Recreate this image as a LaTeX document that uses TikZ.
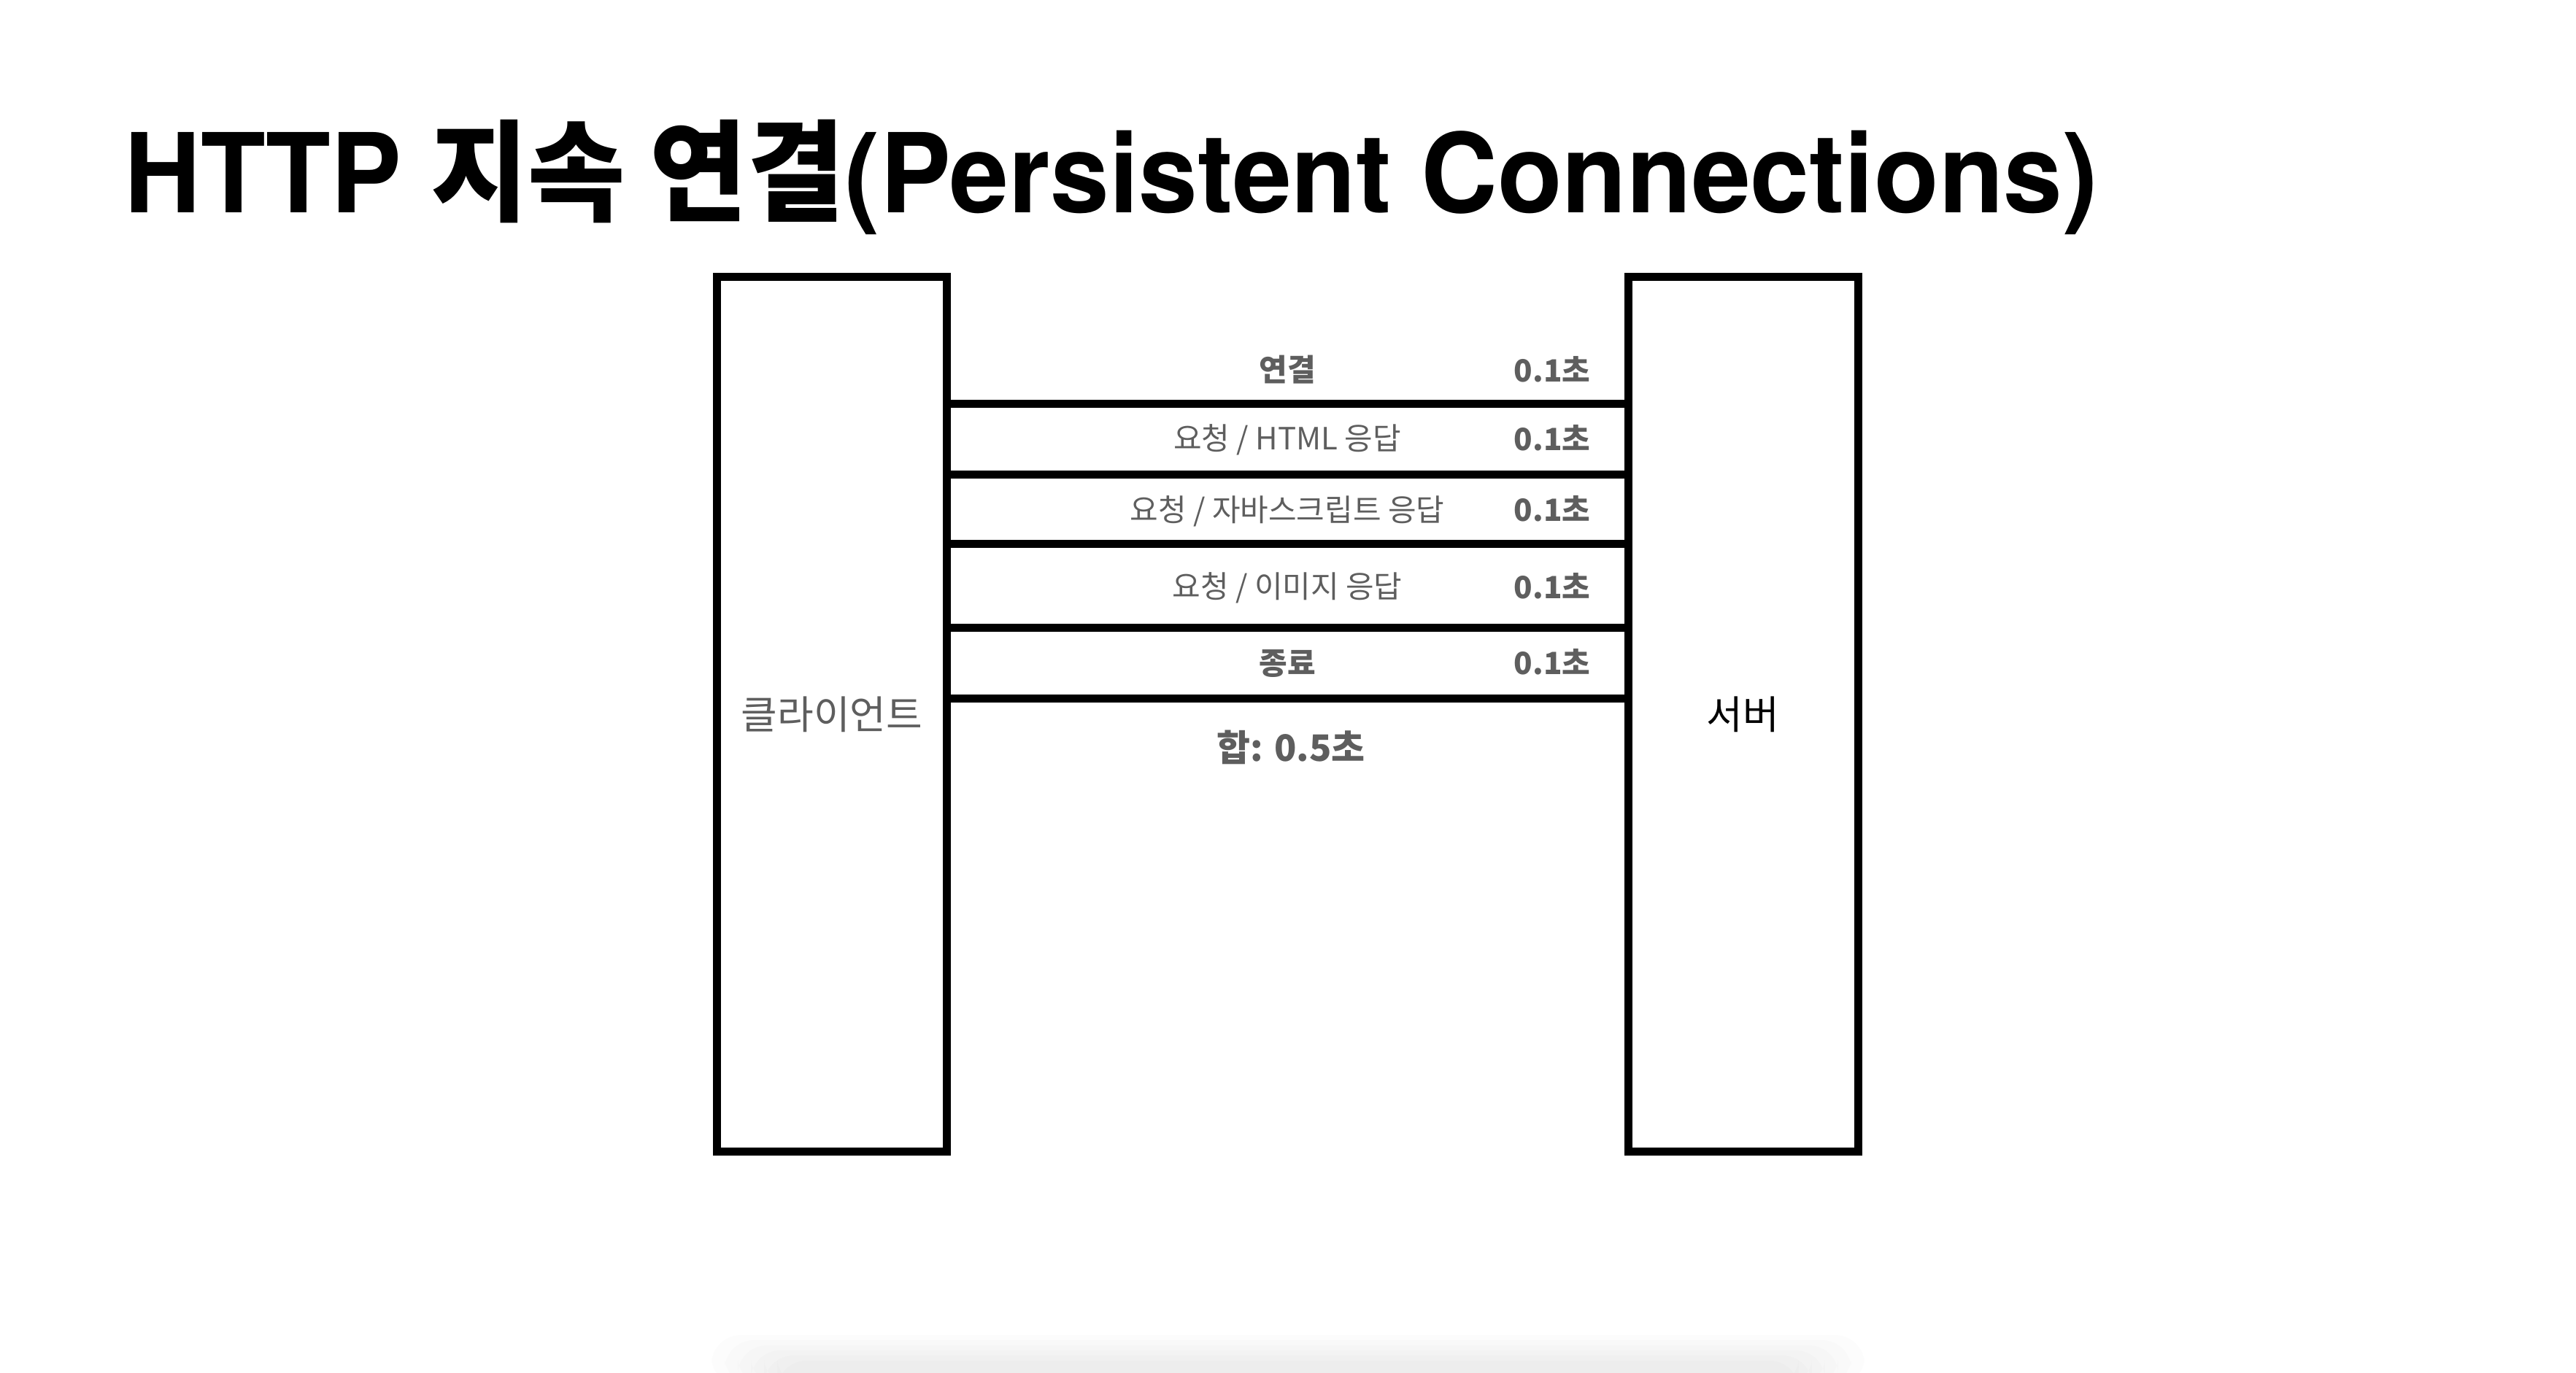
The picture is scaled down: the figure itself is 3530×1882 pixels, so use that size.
\documentclass[tikz,border=0pt]{standalone}
\usepackage{fontspec}
\setmainfont{TeX Gyre Heros}
\newfontfamily\kr{Noto Sans CJK KR}
\definecolor{labelgray}{HTML}{5E5E5E}
\begin{document}
\begin{tikzpicture}[x=0.25pt,y=-0.25pt,
  box/.style={draw=black, line width=2.75pt, fill=white, inner sep=0pt,
    minimum width=78.75pt, minimum height=299.75pt},
  link/.style={line width=2.75pt},
  lbl/.style={font=\kr\fontsize{10.5pt}{12pt}\selectfont, text=labelgray, anchor=base, inner sep=0pt},
  lblb/.style={lbl, font=\kr\bfseries\fontsize{10.5pt}{12pt}\selectfont},
  sec/.style={lblb, anchor=base east},
  side/.style={font=\kr\fontsize{13.5pt}{15pt}\selectfont, anchor=base, inner sep=0pt}]
\useasboundingbox (0,0) rectangle (3530,1882);
\fill[white] (0,0) rectangle (3530,1882);
% faint shadow at the bottom
\foreach \i in {0,...,5}
  \fill[black, opacity=0.010, rounded corners=10pt] (975+\i*18,1830+\i*7) rectangle (2555-\i*18,1900);
% title
\node[anchor=base west, inner sep=0pt, yscale=1.04, font=\bfseries\fontsize{36.3pt}{40pt}\selectfont] (title) at (170,292)
  {HTTP {\kr 지속 연결}(Persistent Connections)};
% boxes
\node[box] (client) at (1140,979) {};
\node[box] (server) at (2388.5,979) {};
\node[side, text=labelgray] (clienttxt) at (1140,999) {클라이언트};
\node[side, text=black] (servertxt) at (2388.5,999) {서버};
% connection lines
\foreach \y in {553.5,650,745.5,860,957.5}
  \draw[link] (client.east |- 0,\y) -- (server.west |- 0,\y);
% labels
\node[lblb] (l1) at (1764,523) {연결};
\node[lbl]  (l2) at (1764,616) {요청 / HTML 응답};
\node[lbl]  (l3) at (1764,714) {요청 / 자바스크립트 응답};
\node[lbl]  (l4) at (1764,819) {요청 / 이미지 응답};
\node[lblb] (l5) at (1764,924) {종료};
\node[sec] (t1) at (2180,524) {0.1초};
\node[sec] (t2) at (2180,617) {0.1초};
\node[sec] (t3) at (2180,714) {0.1초};
\node[sec] (t4) at (2180,820) {0.1초};
\node[sec] (t5) at (2180,924) {0.1초};
\node[lblb, font=\kr\bfseries\fontsize{12.5pt}{14pt}\selectfont] (total) at (1769,1043) {합: 0.5초};
\end{tikzpicture}
\end{document}
